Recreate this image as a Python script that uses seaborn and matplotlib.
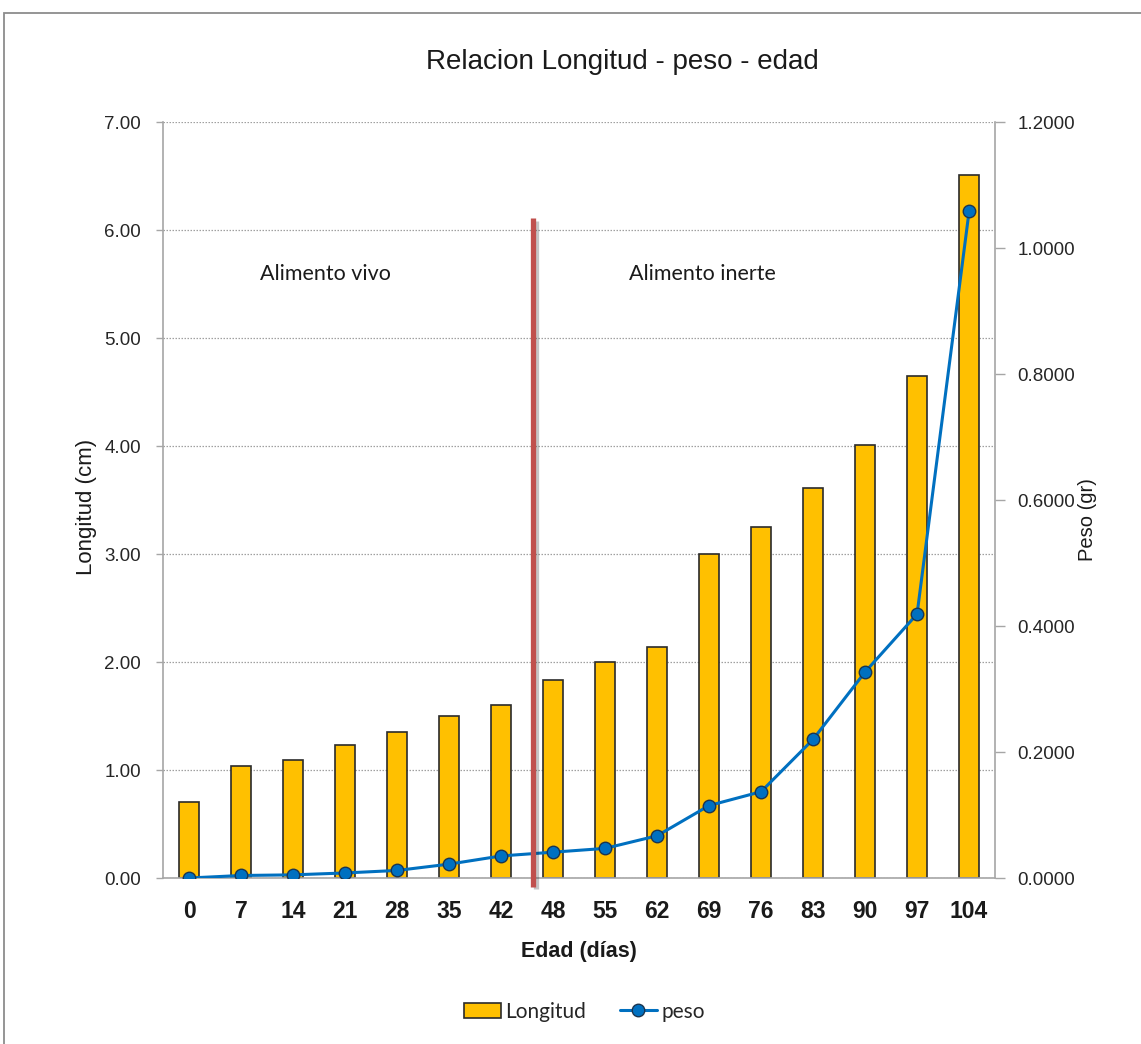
import numpy as np
import pandas as pd
import matplotlib
matplotlib.use("Agg")
import matplotlib.pyplot as plt
import matplotlib.patheffects as pe
from matplotlib.patches import Rectangle, Patch
from matplotlib.lines import Line2D
from matplotlib.ticker import FixedLocator
import seaborn as sns

# Age in days (categories)
edad = ["0", "7", "14", "21", "28", "35", "42", "48", "55", "62",
        "69", "76", "83", "90", "97", "104"]
# Length in cm (bars, left axis)
longitud = [0.70, 1.04, 1.09, 1.23, 1.35, 1.50, 1.60, 1.83, 2.00, 2.14,
            3.00, 3.25, 3.61, 4.01, 4.65, 6.51]
# Weight in grams (line, right axis)
peso = [0.000, 0.004, 0.005, 0.008, 0.012, 0.022, 0.035, 0.041, 0.047, 0.067,
        0.115, 0.137, 0.220, 0.327, 0.419, 1.058]

left_ticks = [0, 1, 2, 3, 4, 5, 6, 7]
right_ticks = [0.0, 0.2, 0.4, 0.6, 0.8, 1.0, 1.2]

df = pd.DataFrame({"Edad": edad, "Longitud": longitud, "peso": peso})

sns.set_theme(style="white")
NARROW = ["Liberation Sans Narrow", "Liberation Sans", "DejaVu Sans"]
ARIAL = ["Liberation Sans", "DejaVu Sans"]
HUMAN = ["Lato", "DejaVu Sans"]
plt.rcParams["font.family"] = ARIAL

BAR = "#FFC000"
LINE = "#0070C0"
RED = "#C0504D"
AXC = "#a6a6a6"

fig = plt.figure(figsize=(11.41, 10.44), dpi=100)
fig.patch.set_facecolor("white")

# outer chart frame
fig.patches.append(Rectangle((0.0035, -0.01), 1.2, 0.9975, transform=fig.transFigure,
                             fill=False, edgecolor="#8c8c8c", linewidth=1.3))

ax = fig.add_axes([0.1429, 0.159, 0.7292, 0.7241])
sns.barplot(data=df, x="Edad", y="Longitud", ax=ax, order=edad, color=BAR,
            saturation=1, width=0.4, edgecolor="#2b2b2b", linewidth=1.2, zorder=2)
ax.set_ylim(0, 7)
ax.set_xlim(-0.5, len(edad) - 0.5)
ax.yaxis.set_major_locator(FixedLocator(left_ticks))
ax.set_yticklabels([f"{v:.2f}" for v in left_ticks], fontsize=13.5, color="#262626")
ax.yaxis.grid(True, linestyle=(0, (1.2, 1.2)), color="#a0a0a0", linewidth=0.9)
ax.xaxis.grid(False)
ax.set_axisbelow(True)

ax2 = ax.twinx()
sns.pointplot(data=df, x="Edad", y="peso", ax=ax2, order=edad, color=LINE,
              errorbar=None, markers="o", markersize=9, linewidth=2.2,
              markeredgecolor="#1b3550", markeredgewidth=1.0)
ax2.set_ylim(0, 1.2)
ax2.set_xlim(-0.5, len(edad) - 0.5)
ax2.yaxis.set_major_locator(FixedLocator(right_ticks))
ax2.set_yticklabels([f"{v:.4f}" for v in right_ticks], fontsize=13.5, color="#262626")
ax2.grid(False)
ax2.set_ylabel("")
ax2.set_xlabel("")

# category ticks sit between bars
ax.xaxis.set_major_locator(FixedLocator(range(len(edad))))
ax.set_xticklabels(edad, fontsize=16.5, fontweight="bold", family=NARROW, color="#1a1a1a")
ax.xaxis.set_minor_locator(FixedLocator(np.arange(-0.5, len(edad), 1.0)))
ax.tick_params(axis="x", which="major", length=0, pad=16)
ax.tick_params(axis="x", which="minor", length=8, width=1, color=AXC, direction="out")
ax.tick_params(axis="y", which="major", length=5, width=1, color=AXC, direction="out",
               pad=11, left=True)
ax2.tick_params(axis="y", which="major", length=7, width=1, color=AXC, direction="out",
                pad=9, right=True)

for a in (ax, ax2):
    a.spines["top"].set_visible(False)
    for s in ("left", "right", "bottom"):
        a.spines[s].set_color(AXC)
        a.spines[s].set_linewidth(1.2)
ax.spines["right"].set_visible(False)
ax2.spines["left"].set_visible(False)
ax2.spines["bottom"].set_visible(False)

ax.set_xlabel("Edad (días)", fontsize=15.5, fontweight="bold", family=NARROW,
              color="#1a1a1a", labelpad=13)
ax.set_ylabel("")
fig.text(0.0755, 0.514, "Longitud (cm)", rotation=90, ha="center", va="center",
         fontsize=16, family=NARROW, color="#1a1a1a")
fig.text(0.9535, 0.502, "Peso (gr)", rotation=90, ha="center", va="center",
         fontsize=14.5, family=NARROW, color="#1a1a1a")

fig.text(0.5456, 0.9406, "Relacion Longitud - peso - edad", ha="center", va="center",
         fontsize=20, family=NARROW, color="#1a1a1a")

# feeding phase divider and labels
divider = Line2D([6.61, 6.61], [-0.08, 6.11], transform=ax.transData, color=RED,
                 linewidth=3.8, clip_on=False, zorder=10, solid_capstyle="butt",
                 path_effects=[pe.SimpleLineShadow(offset=(2, -2), alpha=0.25),
                               pe.Normal()])
ax2.add_line(divider)
ax.text(2.62, 5.59, "Alimento vivo", ha="center", va="center", fontsize=15.5,
        family=HUMAN, color="#1a1a1a")
ax.text(9.87, 5.59, "Alimento inerte", ha="center", va="center", fontsize=15.5,
        family=HUMAN, color="#1a1a1a")

handles = [Patch(facecolor=BAR, edgecolor="#2b2b2b", linewidth=1.2),
           Line2D([], [], color=LINE, linewidth=2.2, marker="o", markersize=9,
                  markerfacecolor=LINE, markeredgecolor="#1b3550")]
fig.legend(handles, ["Longitud", "peso"], loc="center", bbox_to_anchor=(0.512, 0.031),
           ncol=2, frameon=False, prop={"family": HUMAN, "size": 15},
           handlelength=1.8, handletextpad=0.2, columnspacing=1.6)

fig.savefig("out.png", dpi=100, facecolor="white")
